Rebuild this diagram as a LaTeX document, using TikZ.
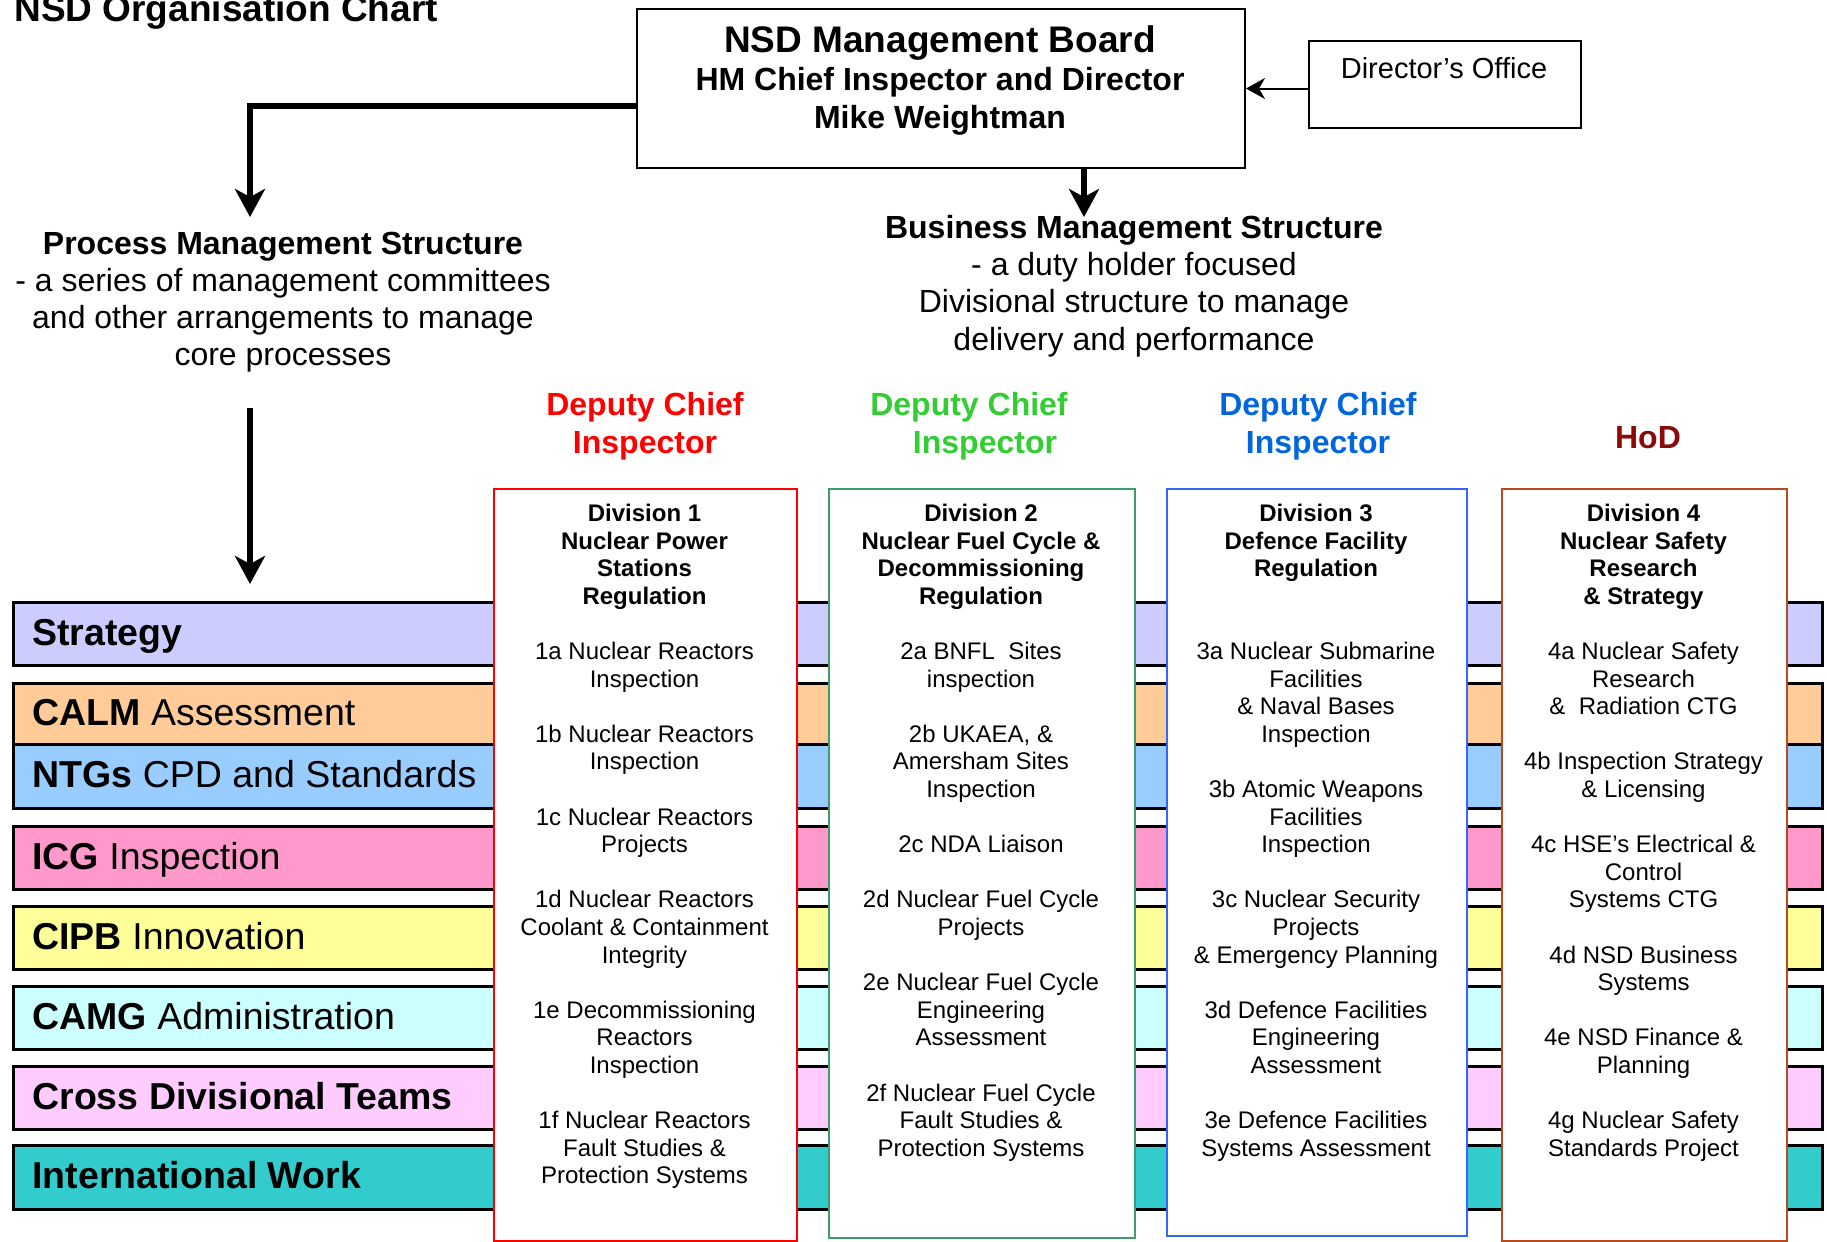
\documentclass[tikz,border=0pt]{standalone}
\usepackage{fontspec}
\setmainfont{Liberation Sans}
\usetikzlibrary{arrows.meta,calc}
\definecolor{cstrat}{HTML}{CCCCFF}
\definecolor{ccalm}{HTML}{FFCC99}
\definecolor{cntg}{HTML}{99CCFF}
\definecolor{cicg}{HTML}{FF99CC}
\definecolor{ccipb}{HTML}{FFFF99}
\definecolor{ccamg}{HTML}{CCFFFF}
\definecolor{ccross}{HTML}{FFCCFF}
\definecolor{cintl}{HTML}{33CCCC}
\definecolor{dcred}{HTML}{FF0000}
\definecolor{dcgreen}{HTML}{33CC33}
\definecolor{dcblue}{HTML}{0066DD}
\definecolor{hodcol}{HTML}{8B0A0A}
\definecolor{dtwo}{HTML}{3C9E68}
\definecolor{dthree}{HTML}{3366FF}
\definecolor{dfour}{HTML}{B84A1B}
\begin{document}
\begin{tikzpicture}[x=0.5pt,y=-0.5pt,
  band/.style={draw=black, line width=1.25pt, minimum width=904.5pt, inner sep=0pt, anchor=north west},
  bandtxt/.style={anchor=base west, inner sep=0pt, font=\fontsize{18.75}{22}\selectfont},
  divbox/.style={fill=white, line width=1.1pt, inner sep=0pt, anchor=north west},
  divtxt/.style={anchor=base, inner sep=0pt, align=center, font=\fontsize{12}{13.8}\selectfont},
  plainbox/.style={draw=black, line width=1pt, inner sep=0pt, anchor=north west},
  deputy/.style={anchor=base, inner sep=0pt, align=center, font=\bfseries\fontsize{16}{19}\selectfont},
  thickarrow/.style={line width=3.2pt, -{Stealth[length=14pt,width=15pt,inset=4pt]}},
  thinarrow/.style={line width=1pt, -{Stealth[length=9.5pt,width=10.5pt,inset=3pt]}}
]
\useasboundingbox (0,0) rectangle (1827,1242);
\clip (0,0) rectangle (1827,1242);
\fill[white] (0,0) rectangle (1827,1242);

% title
\node[anchor=base west, inner sep=0pt, font=\bfseries\fontsize{18.5}{22}\selectfont] (title) at (14,21) {NSD Organisation Chart};

% management board
\node[plainbox, minimum width=304pt, minimum height=79.5pt] (board) at (636,8) {};
\node[anchor=base, inner sep=0pt, align=center, font=\bfseries\fontsize{16}{19}\selectfont] (boardtxt) at (940,128)
  {{\fontsize{18.5}{19}\selectfont NSD Management Board}\\HM Chief Inspector and Director\\Mike Weightman};

% director's office
\node[plainbox, minimum width=136pt, minimum height=43.5pt] (dir) at (1308,40) {};
\node[anchor=base, inner sep=0pt, font=\fontsize{14.5}{17}\selectfont] (dirtxt) at (1444,78) {Director's Office};

% structures
\node[anchor=base, inner sep=0pt, align=center, font=\fontsize{16}{18.4}\selectfont] (pms) at (283,365)
  {\textbf{Process Management Structure}\\- a series of management committees\\and other arrangements to manage\\core processes};
\node[anchor=base, inner sep=0pt, align=center, font=\fontsize{16}{18.6}\selectfont] (bms) at (1134,350)
  {\textbf{Business Management Structure}\\- a duty holder focused\\Divisional structure to manage\\delivery and performance};

% connectors
\coordinate (pmtip) at (250,217);
\coordinate (bmtip) at (1084,217);
\coordinate (pa1) at (250,408);
\coordinate (pa2) at (250,584);
\draw[thickarrow] ([yshift=-8.75pt]board.west) -| (pmtip);
\draw[thickarrow] (board.south -| bmtip) -- (bmtip);
\draw[thinarrow] ([yshift=-2pt]dir.west) -- ([yshift=-2pt]dir.west -| board.east);
\draw[thickarrow] (pa1) -- (pa2);

% deputies
\node[deputy, text=dcred] (dep1) at (645,453) {Deputy Chief\\Inspector};
\node[deputy, text=dcgreen] (dep2) at (969,453) {Deputy Chief\\\hspace*{16pt}Inspector};
\node[deputy, text=dcblue] (dep3) at (1318,453) {Deputy Chief\\Inspector};
\node[deputy, text=hodcol] (hod) at (1648,448) {HoD};

% bands
\node[band, fill=cstrat, minimum height=31.5pt] (bstrat) at (12,601) {};
\node[band, fill=ccalm, minimum height=30.5pt] (bcalm) at (12,682) {};
\node[band, fill=cntg, minimum height=32pt] (bntg) at (12,743) {};
\node[band, fill=cicg, minimum height=31.5pt] (bicg) at (12,825) {};
\node[band, fill=ccipb, minimum height=31.5pt] (bcipb) at (12,905) {};
\node[band, fill=ccamg, minimum height=31.5pt] (bcamg) at (12,985) {};
\node[band, fill=ccross, minimum height=31.5pt] (bcross) at (12,1065) {};
\node[band, fill=cintl, minimum height=32pt] (bintl) at (12,1144) {};

\node[bandtxt] (tstrat) at (32,645) {\textbf{Strategy}};
\node[bandtxt] (tcalm) at (32,725) {\textbf{CALM} Assessment};
\node[bandtxt] (tntg) at (32,787) {\textbf{NTGs} CPD and Standards};
\node[bandtxt] (ticg) at (32,869) {\textbf{ICG} Inspection};
\node[bandtxt] (tcipb) at (32,949) {\textbf{CIPB} Innovation};
\node[bandtxt] (tcamg) at (32,1029) {\textbf{CAMG} Administration};
\node[bandtxt] (tcross) at (32,1109) {\textbf{Cross Divisional Teams}};
\node[bandtxt] (tintl) at (32,1188) {\textbf{International Work}};

% division boxes
\node[divbox, draw=dcred, minimum width=151.5pt, minimum height=376pt] (div1) at (493,488) {};
\node[divbox, draw=dtwo, minimum width=153pt, minimum height=374.5pt] (div2) at (828,488) {};
\node[divbox, draw=dthree, minimum width=150pt, minimum height=373.5pt] (div3) at (1166,488) {};
\node[divbox, draw=dfour, minimum width=142.5pt, minimum height=376pt] (div4) at (1501,488) {};

\node[divtxt] (div1txt) at (644.5,1183.9)
  {\textbf{Division 1}\\\textbf{Nuclear Power}\\\textbf{Stations}\\\textbf{Regulation}\\[13.8pt]
   1a Nuclear Reactors\\Inspection\\[13.8pt]
   1b Nuclear Reactors\\Inspection\\[13.8pt]
   1c Nuclear Reactors\\Projects\\[13.8pt]
   1d Nuclear Reactors\\Coolant \& Containment\\Integrity\\[13.8pt]
   1e Decommissioning\\Reactors\\Inspection\\[13.8pt]
   1f Nuclear Reactors\\Fault Studies \&\\Protection Systems};

\node[divtxt] (div2txt) at (981,1156.3)
  {\textbf{Division 2}\\\textbf{Nuclear Fuel Cycle \&}\\\textbf{Decommissioning}\\\textbf{Regulation}\\[13.8pt]
   2a BNFL\ \ Sites\\inspection\\[13.8pt]
   2b UKAEA, \&\\Amersham Sites\\Inspection\\[13.8pt]
   2c NDA Liaison\\[13.8pt]
   2d Nuclear Fuel Cycle\\Projects\\[13.8pt]
   2e Nuclear Fuel Cycle\\Engineering\\Assessment\\[13.8pt]
   2f Nuclear Fuel Cycle\\Fault Studies \&\\Protection Systems};

\node[divtxt] (div3txt) at (1316,1156.3)
  {\textbf{Division 3}\\\textbf{Defence Facility}\\\textbf{Regulation}\\[27.6pt]
   3a Nuclear Submarine\\Facilities\\\& Naval Bases\\Inspection\\[13.8pt]
   3b Atomic Weapons\\Facilities\\Inspection\\[13.8pt]
   3c Nuclear Security\\Projects\\\& Emergency Planning\\[13.8pt]
   3d Defence Facilities\\Engineering\\Assessment\\[13.8pt]
   3e Defence Facilities\\Systems Assessment};

\node[divtxt] (div4txt) at (1643.5,1156.3)
  {\textbf{Division 4}\\\textbf{Nuclear Safety}\\\textbf{Research}\\\textbf{\& Strategy}\\[13.8pt]
   4a Nuclear Safety\\Research\\\&\ \ Radiation CTG\\[13.8pt]
   4b Inspection Strategy\\\& Licensing\\[13.8pt]
   4c HSE's Electrical \&\\Control\\Systems CTG\\[13.8pt]
   4d NSD Business\\Systems\\[13.8pt]
   4e NSD Finance \&\\Planning\\[13.8pt]
   4g Nuclear Safety\\Standards Project};
\end{tikzpicture}
\end{document}
